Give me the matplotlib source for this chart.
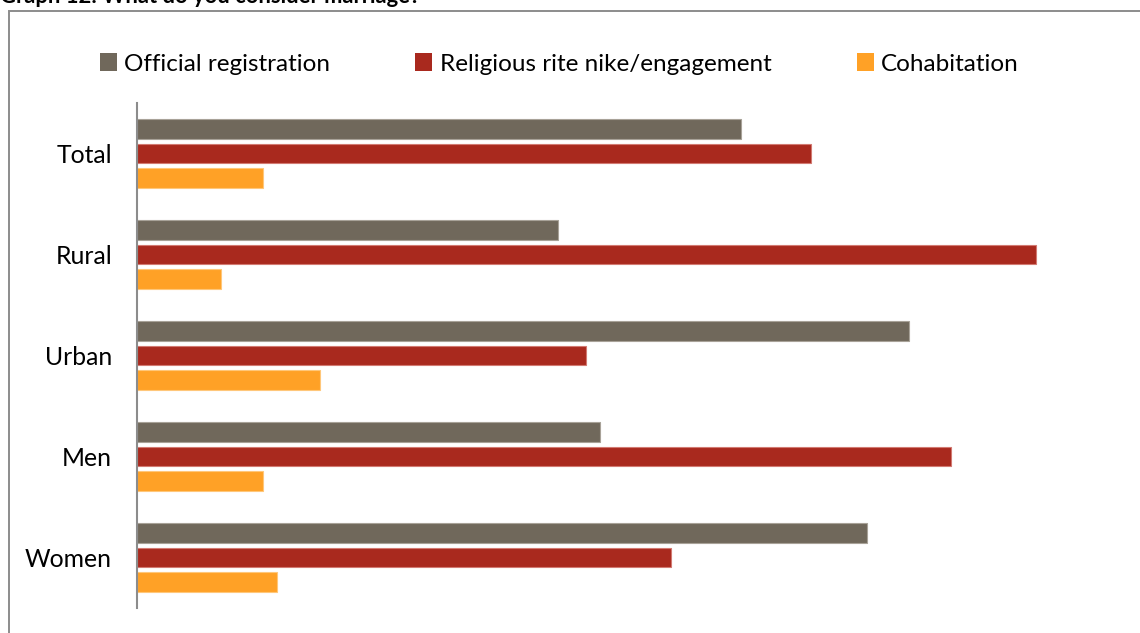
import matplotlib
matplotlib.use("Agg")
import matplotlib.pyplot as plt
from matplotlib.patches import Rectangle, Patch

categories = ["Total", "Rural", "Urban", "Men", "Women"]
series_names = ["Official registration", "Religious rite nike/engagement", "Cohabitation"]
official = [43, 30, 55, 33, 52]
religious = [48, 64, 32, 58, 38]
cohabitation = [9, 6, 13, 9, 10]
colors = ["#70685B", "#A9291E", "#FFA126"]
edge_colors = ["#A8A298", "#D27A72", "#FFC77A"]

plt.rcParams["font.family"] = ["Lato", "DejaVu Sans"]

W, H = 1140, 633
fig = plt.figure(figsize=(W / 100, H / 100), dpi=100)

# outer frame of the chart area
frame = Rectangle((8.5 / W, -0.05), 1.2, 1 - 10.5 / H + 0.05, transform=fig.transFigure,
                  fill=False, edgecolor="#8C8C8C", linewidth=1.4, clip_on=False)
fig.patches.append(frame)

fig.text(0.0, 1 - 3 / H, "Graph 12: What do you consider marriage?", fontsize=15.8,
         fontweight="bold", ha="left", va="baseline", color="#000000")

ax = fig.add_axes([137 / W, 25 / H, 980 / W, 505 / H])

offset = 0.245
height = 0.198
y = list(range(len(categories)))
for i, (vals, c, ec) in enumerate(zip([official, religious, cohabitation], colors, edge_colors)):
    pos = [v + (i - 1) * offset for v in y]
    ax.barh(pos, vals, height=height, color=c, edgecolor=ec, linewidth=0.8)

ax.set_xlim(0, 69.8)
ax.set_ylim(len(categories) - 0.5, -0.5)
ax.set_yticks(y)
ax.set_yticklabels(categories, fontsize=17.8)
ax.tick_params(axis="y", length=0, pad=18)
ax.set_xticks([])
for s in ["top", "right", "bottom"]:
    ax.spines[s].set_visible(False)
ax.spines["left"].set_color("#8C8C8C")
ax.spines["left"].set_linewidth(1.5)

handles = [Patch(facecolor=c, edgecolor="none") for c in colors]
fig.legend(handles, series_names, loc="center left", bbox_to_anchor=(100 / W, 1 - 64 / H),
           ncol=3, frameon=False, fontsize=17.5, handlelength=0.7, handleheight=0.7,
           handletextpad=0.3, columnspacing=3.5, borderaxespad=0, borderpad=0)

fig.savefig("out.png", dpi=100)
